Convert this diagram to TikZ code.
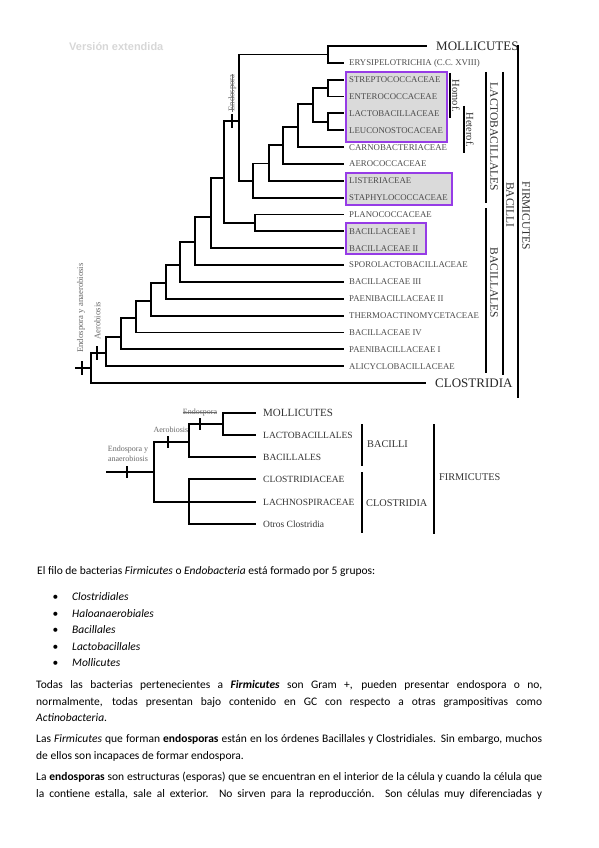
\documentclass[tikz,border=0pt]{standalone}
\usepackage{fontspec}
\setmainfont{Carlito}
\newfontfamily\treefont{Liberation Serif}
\newfontfamily\markfont{Liberation Sans}
\usetikzlibrary{calc}
\definecolor{hlpurple}{RGB}{150,60,230}
\definecolor{hlgray}{RGB}{218,218,218}
\definecolor{taxgray}{RGB}{75,75,75}
\definecolor{notegray}{RGB}{105,105,105}
\definecolor{markgray}{RGB}{215,215,215}

\begin{document}
\begin{tikzpicture}[x=1pt,y=-1pt,
  branch/.style={line width=1.9pt,line cap=rect},
  bar/.style={line width=2pt},
  tickmark/.style={line width=1.7pt},
  hlbox/.style={draw=hlpurple,fill=hlgray,line width=1.3pt},
  fam/.style={anchor=west,inner xsep=6pt,inner ysep=0pt,text height=5.8pt,text depth=0pt,font=\treefont\fontsize{8.8}{10}\selectfont,text=taxgray},
  cls/.style={anchor=west,inner xsep=10pt,inner ysep=0pt,text height=8.6pt,text depth=0pt,font=\treefont\fontsize{13}{15}\selectfont,text=black!85},
  grp/.style={inner sep=0pt,font=\treefont\fontsize{11.5}{13}\selectfont,text=black!80},
  subgrp/.style={grp,font=\treefont\fontsize{10.5}{12}\selectfont},
  note/.style={inner sep=0pt,font=\treefont\fontsize{8.7}{10}\selectfont,text=notegray},
  snote/.style={inner sep=0pt,font=\treefont\fontsize{8}{10}\selectfont,text=notegray},
  sml/.style={anchor=west,inner xsep=8pt,inner ysep=0pt,text height=6.4pt,text depth=0pt,font=\treefont\fontsize{9.5}{11}\selectfont,text=black!80},
  sgrp/.style={anchor=west,inner sep=0pt,text height=6.8pt,text depth=0pt,font=\treefont\fontsize{10.3}{12}\selectfont,text=black!80},
  strike/.style={notegray,line width=0.5pt},
  txt/.style={anchor=base west,inner sep=0pt,font=\fontsize{11.5}{14}\selectfont}]
\useasboundingbox (0,0) rectangle (599,848);

% watermark
\node[anchor=base west,inner sep=0pt,font=\markfont\bfseries\fontsize{11}{13}\selectfont,text=markgray] (wm) at (69,51) {Versión extendida};

% highlighted families
\draw[hlbox] (346,72) rectangle (447,142);
\draw[hlbox] (346,173) rectangle (452,205);
\draw[hlbox] (346,223) rectangle (426,254);

% extended tree: leaves
\node[cls] (moll) at (426,46) {MOLLICUTES};
\node[fam] (erys) at (343,62.85) {ERYSIPELOTRICHIA (C.C. XVIII)};
\node[fam] (strep) at (343,79.7) {STREPTOCOCCACEAE};
\node[fam] (enter) at (343,96.55) {ENTEROCOCCACEAE};
\node[fam] (lacto) at (343,113.4) {LACTOBACILLACEAE};
\node[fam] (leuco) at (343,130.25) {LEUCONOSTOCACEAE};
\node[fam] (carno) at (343,147.1) {CARNOBACTERIACEAE};
\node[fam] (aero) at (343,163.95) {AEROCOCCACEAE};
\node[fam] (list) at (343,180.8) {LISTERIACEAE};
\node[fam] (staph) at (343,197.65) {STAPHYLOCOCCACEAE};
\node[fam] (plano) at (343,214.5) {PLANOCOCCACEAE};
\node[fam] (bacI) at (343,231.35) {BACILLACEAE I};
\node[fam] (bacII) at (343,248.2) {BACILLACEAE II};
\node[fam] (sporo) at (343,265.05) {SPOROLACTOBACILLACEAE};
\node[fam] (bacIII) at (343,281.9) {BACILLACEAE III};
\node[fam] (paenII) at (343,298.75) {PAENIBACILLACEAE II};
\node[fam] (thermo) at (343,315.6) {THERMOACTINOMYCETACEAE};
\node[fam] (bacIV) at (343,332.45) {BACILLACEAE IV};
\node[fam] (paenI) at (343,349.3) {PAENIBACILLACEAE I};
\node[fam] (alicy) at (343,366.15) {ALICYCLOBACILLACEAE};
\node[cls] (clos) at (425,383) {CLOSTRIDIA};

% extended tree: inner nodes
\coordinate (nA) at (328,54.5);
\coordinate (nB) at (328,88);
\coordinate (nC) at (328,122);
\coordinate (nD) at (313,104);
\coordinate (nE) at (298,127);
\coordinate (nF) at (283,145);
\coordinate (nG) at (269,163.5);
\coordinate (nH) at (253,181);
\coordinate (nI) at (239,121);
\coordinate (nJ) at (255,223);
\coordinate (nK) at (224,178);
\coordinate (nL) at (211,217);
\coordinate (nM) at (195,242);
\coordinate (nN) at (180,265);
\coordinate (nO) at (166,283);
\coordinate (nP) at (151,301);
\coordinate (nQ) at (136,318);
\coordinate (nR) at (121,337);
\coordinate (nS) at (106,353);
\coordinate (nT) at (91,368);
\coordinate (root) at (76,368);

\draw[branch] (nA) |- (moll.west) (nA) |- (erys.west);
\draw[branch] (nB) |- (strep.west) (nB) |- (enter.west);
\draw[branch] (nC) |- (lacto.west) (nC) |- (leuco.west);
\draw[branch] (nD) |- (nB) (nD) |- (nC);
\draw[branch] (nE) |- (nD) (nE) |- (carno.west);
\draw[branch] (nF) |- (nE) (nF) |- (aero.west);
\draw[branch] (nG) |- (nF) (nG) |- (list.west);
\draw[branch] (nH) |- (nG) (nH) |- (staph.west);
\draw[branch] (nI) |- (nA) (nI) |- (nH);
\draw[branch] (nJ) |- (plano.west) (nJ) |- (bacI.west);
\draw[branch] (nK) |- (nI) (nK) |- (nJ);
\draw[branch] (nL) |- (nK) (nL) |- (bacII.west);
\draw[branch] (nM) |- (nL) (nM) |- (sporo.west);
\draw[branch] (nN) |- (nM) (nN) |- (bacIII.west);
\draw[branch] (nO) |- (nN) (nO) |- (paenII.west);
\draw[branch] (nP) |- (nO) (nP) |- (thermo.west);
\draw[branch] (nQ) |- (nP) (nQ) |- (bacIV.west);
\draw[branch] (nR) |- (nQ) (nR) |- (paenI.west);
\draw[branch] (nS) |- (nR) (nS) |- (alicy.west);
\draw[branch] (nT) |- (nS) (nT) |- (clos.west);
\draw[branch] (root) -- (nT);

% extended tree: characters
\coordinate (tkEndo) at (232,121);
\coordinate (tkAero) at (97,353);
\coordinate (tkEndoAn) at (82,368);
\foreach \tk in {tkEndo,tkAero,tkEndoAn}
  \draw[tickmark] ([yshift=7pt]\tk) -- ([yshift=-7pt]\tk);
\node[note,rotate=90,anchor=mid] (lbEndo) at (232,93) {Endospora};
\draw[strike] (lbEndo.mid west) -- (lbEndo.mid east);
\node[note,rotate=90] (lbEndoAn) at (81,308) {Endospora y anaerobiosis};
\node[note,rotate=90] (lbAero) at (97.5,321) {Aerobiosis};

% extended tree: groups
\draw[bar] (450,73) -- (450,118);
\node[subgrp,rotate=-90] (gHomo) at (456,96) {Homof.};
\draw[bar] (464,106) -- (464,153);
\node[subgrp,rotate=-90] (gHetero) at (470,130) {Heterof.};
\draw[bar] (486,72) -- (486,203);
\node[grp,rotate=-90] (gLacto) at (494,137) {LACTOBACILLALES};
\draw[bar] (486,208) -- (486,373);
\node[grp,rotate=-90] (gBacil) at (494,283) {BACILLALES};
\draw[bar] (503,72) -- (503,375);
\node[grp,rotate=-90] (gBacilli) at (510,205) {BACILLI};
\draw[bar] (518,45) -- (518,398);
\node[grp,rotate=-90] (gFirm) at (526,216) {FIRMICUTES};

% short tree
\node[sml,font=\treefont\fontsize{11}{13}\selectfont,text height=7.3pt] (moll2) at (255,413) {MOLLICUTES};
\node[sml] (lacto2) at (255,435) {LACTOBACILLALES};
\node[sml] (bacil2) at (255,457) {BACILLALES};
\node[sml] (clos2) at (255,479) {CLOSTRIDIACEAE};
\node[sml] (lachno2) at (255,502) {LACHNOSPIRACEAE};
\node[sml] (otros2) at (255,524) {Otros Clostridia};

\coordinate (sU) at (223,424);
\coordinate (sV) at (189,442);
\coordinate (sW) at (189,502);
\coordinate (sRoot) at (154,472);
\coordinate (sStem) at (107,472);
\draw[branch] (sU) |- (moll2.west) (sU) |- (lacto2.west);
\draw[branch] (sV) |- (sU) (sV) |- (bacil2.west);
\draw[branch] (sW) |- (clos2.west) (sW) -- (lachno2.west) (sW) |- (otros2.west);
\draw[branch] (sRoot) |- (sV) (sRoot) |- (sW);
\draw[branch] (sStem) -- (sRoot);

\coordinate (stkEndoAn) at (127,472);
\coordinate (stkAero) at (168,442);
\coordinate (stkEndo) at (200,424);
\foreach \tk in {stkEndoAn,stkAero,stkEndo}
  \draw[tickmark] ([yshift=6pt]\tk) -- ([yshift=-6pt]\tk);
\node[snote,align=center] (slbEndoAn) at (128,454) {Endospora y\\anaerobiosis};
\node[snote] (slbAero) at (171,430) {Aerobiosis};
\node[snote] (slbEndo) at (200,413) {Endospora};
\draw[strike] (slbEndo.mid west) -- (slbEndo.mid east);

\draw[bar] (362,424) -- (362,466);
\node[sgrp] (sBacilli) at (367,444) {BACILLI};
\draw[bar] (362,472) -- (362,533);
\node[sgrp] (sClos) at (366,503) {CLOSTRIDIA};
\draw[bar] (434,424) -- (434,534);
\node[sgrp] (sFirm) at (439,477) {FIRMICUTES};

% text of the page
\node[txt] (intro) at (37,574.5) {El filo de bacterias \textit{Firmicutes} o \textit{Endobacteria} está formado por 5 grupos:};
\foreach \grupo [count=\i] in {Clostridiales,Haloanaerobiales,Bacillales,Lactobacillales,Mollicutes} {
  \node[txt,anchor=base] (dot\i) at (55.5,{584+16.5*\i}) {•};
  \node[txt] (item\i) at (72,{584+16.5*\i}) {\textit{\grupo}};
}
\node[txt] (p2a) at (36,688.5) {\makebox[506pt][s]{Todas las bacterias pertenecientes a \textbf{\textit{Firmicutes}} son Gram +, pueden presentar endospora o no,}};
\node[txt] (p2b) at (36,705) {\makebox[506pt][s]{normalmente, todas presentan bajo contenido en GC con respecto a otras grampositivas como}};
\node[txt] (p2c) at (36,721.5) {\textit{Actinobacteria}.};
\node[txt] (p3a) at (36,742.5) {\makebox[506pt][s]{Las \textit{Firmicutes} que forman \textbf{endosporas} están en los órdenes Bacillales y Clostridiales. Sin embargo, muchos}};
\node[txt] (p3b) at (36,759) {de ellos son incapaces de formar endospora.};
\node[txt] (p4a) at (36,780.5) {\makebox[506pt][s]{La \textbf{endosporas} son estructuras (esporas) que se encuentran en el interior de la célula y cuando la célula que}};
\node[txt] (p4b) at (36,797) {\makebox[506pt][s]{la contiene estalla, sale al exterior. No sirven para la reproducción. Son células muy diferenciadas y}};
\end{tikzpicture}
\end{document}
